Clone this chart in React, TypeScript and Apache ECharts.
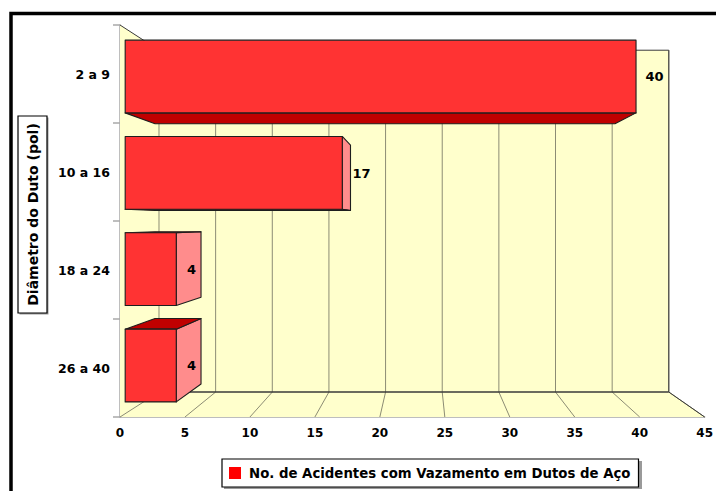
import React, { useEffect, useRef } from "react";
import * as echarts from "echarts";

// Pipe diameter classes (inches) and number of leak accidents in steel pipelines
const categories = ["2 a 9", "10 a 16", "18 a 24", "26 a 40"];
const accidents = [40, 17, 4, 4];
const seriesName = "No. de Acidentes com Vazamento em Dutos de Aço";
const axisTitle = "Diâmetro do Duto (pol)";
const xMin = 0;
const xMax = 45;
const xStep = 5;

// Perspective set-up: vanishing point as a fraction of the plot rect,
// and scale factors for the back wall and the bar front/back planes.
const VP_X = 0.521;
const VP_Y = 0.5026;
const WALL_S = 0.872;
const BAR_FRONT_S = 0.983;
const BAR_BACK_S = 0.885;
const BAR_FILL = 0.755;

const FONT = "DejaVu Sans";
const WALL_FILL = "#FFFFCC";
const GRID_COLOR = "#8c8c74";
const EDGE_COLOR = "#3a3a3a";
const AXIS_GRAY = "#a8a8a8";

function projector(cs: any) {
  const vx = cs.x + cs.width * VP_X;
  const vy = cs.y + cs.height * VP_Y;
  const P = (x: number, y: number, s: number) => [vx + (x - vx) * s, vy + (y - vy) * s];
  return { vx, vy, P };
}

function renderWalls(params: any, api: any) {
  const cs = params.coordSys;
  const { P } = projector(cs);
  const gx = cs.x;
  const gy = cs.y;
  const right = cs.x + cs.width;
  const bottom = cs.y + cs.height;
  const W = WALL_S;
  const children: any[] = [];
  const poly = (pts: number[][]) => ({
    type: "polygon",
    shape: { points: pts },
    style: { fill: WALL_FILL, stroke: "none" },
  });
  const line = (a: number[], b: number[], color: string, w = 1) => ({
    type: "line",
    shape: { x1: a[0], y1: a[1], x2: b[0], y2: b[1] },
    style: { stroke: color, lineWidth: w },
  });
  children.push(poly([[gx, gy], P(gx, gy, W), P(gx, bottom, W), [gx, bottom]]));
  children.push(poly([P(gx, gy, W), P(right, gy, W), P(right, bottom, W), P(gx, bottom, W)]));
  children.push(poly([[gx, bottom], [right, bottom], P(right, bottom, W), P(gx, bottom, W)]));
  for (let v = xMin; v <= xMax; v += xStep) {
    const x = api.coord([v, 0])[0];
    children.push(line(P(x, gy, W), P(x, bottom, W), GRID_COLOR));
    children.push(line(P(x, bottom, W), [x, bottom], GRID_COLOR));
  }
  children.push(line([gx, gy], P(gx, gy, W), EDGE_COLOR));
  children.push(line(P(gx, gy, W), P(right, gy, W), EDGE_COLOR));
  children.push(line(P(right, gy, W), P(right, bottom, W), EDGE_COLOR));
  children.push(line(P(gx, bottom, W), P(right, bottom, W), EDGE_COLOR, 1.5));
  children.push(line(P(right, bottom, W), [right, bottom], EDGE_COLOR));
  return { type: "group", children };
}

function renderBar(params: any, api: any) {
  const cs = params.coordSys;
  const { vx, vy, P } = projector(cs);
  const v = api.value(0);
  const c = api.value(1);
  const [x1, yc] = api.coord([v, c]);
  const x0 = api.coord([0, c])[0];
  const half = (api.size([0, 1])[1] * BAR_FILL) / 2;
  const top = yc - half;
  const bot = yc + half;
  const F = BAR_FRONT_S;
  const B = BAR_BACK_S;
  const fTL = P(x0, top, F), fTR = P(x1, top, F), fBR = P(x1, bot, F), fBL = P(x0, bot, F);
  const bTL = P(x0, top, B), bTR = P(x1, top, B), bBR = P(x1, bot, B), bBL = P(x0, bot, B);
  const face = (pts: number[][], fill: string) => ({
    type: "polygon",
    shape: { points: pts },
    style: { fill, stroke: "#1e1e1e", lineWidth: 1.1, lineJoin: "round" },
  });
  const children: any[] = [];
  if (x1 < vx) children.push(face([fTR, bTR, bBR, fBR], "#FF8C8C"));
  if (top > vy) children.push(face([fTL, fTR, bTR, bTL], "#C00000"));
  if (bot < vy) children.push(face([fBL, fBR, bBR, bBL], "#C00000"));
  children.push(face([fTL, fTR, fBR, fBL], "#FF3333"));
  const labelPos = P(x1, yc, 0.98);
  children.push({
    type: "text",
    x: labelPos[0] + 10,
    y: labelPos[1],
    style: {
      text: String(v),
      fill: "#000",
      font: `bold 13px "${FONT}"`,
      align: "left",
      verticalAlign: "middle",
    },
  });
  return { type: "group", children };
}

export default function App() {
  const ref = useRef<HTMLDivElement>(null);

  useEffect(() => {
    if (!ref.current) return;
    const chart = echarts.init(ref.current, undefined, { renderer: "svg" });
    chart.setOption({
      animation: false,
      backgroundColor: "#fff",
      grid: { left: 120, top: 25, width: 585, height: 392, containLabel: false },
      xAxis: {
        type: "value",
        min: xMin,
        max: xMax,
        interval: xStep,
        axisLine: { show: true, lineStyle: { color: AXIS_GRAY, width: 1.5 } },
        axisTick: { show: false },
        splitLine: { show: false },
        axisLabel: {
          margin: 10,
          color: "#000",
          fontFamily: FONT,
          fontWeight: "bold",
          fontSize: 12,
        },
      },
      yAxis: {
        type: "category",
        data: categories,
        inverse: true,
        axisLine: { show: true, lineStyle: { color: AXIS_GRAY, width: 1.5 } },
        axisTick: { show: true, length: 7, lineStyle: { color: AXIS_GRAY, width: 1.5 } },
        splitLine: { show: false },
        axisLabel: {
          margin: 10,
          color: "#000",
          fontFamily: FONT,
          fontWeight: "bold",
          fontSize: 12.5,
        },
      },
      legend: {
        left: 222,
        top: 459,
        padding: [6, 8, 6, 7],
        icon: "rect",
        itemWidth: 12,
        itemHeight: 12,
        borderColor: "#000",
        borderWidth: 1.2,
        backgroundColor: "#fff",
        selectedMode: false,
        textStyle: {
          color: "#000",
          fontFamily: FONT,
          fontWeight: "bold",
          fontSize: 13.3,
          lineHeight: 16,
          padding: [0, 0, 0, 3],
        },
        data: [{ name: seriesName, itemStyle: { color: "#FF0000" } }],
      },
      graphic: [
        {
          type: "rect",
          z: 1,
          shape: { x: 224, y: 461, width: 418, height: 28 },
          style: { fill: "#9a9a9a" },
        },
        {
          type: "rect",
          z: 1,
          shape: { x: 19.5, y: 117.5, width: 29, height: 197 },
          style: { fill: "#9a9a9a" },
        },
        {
          type: "rect",
          z: 2,
          shape: { x: 18, y: 116, width: 29, height: 197 },
          style: { fill: "#fff", stroke: "#000", lineWidth: 1.2 },
        },
        {
          type: "text",
          z: 3,
          x: 33,
          y: 214.5,
          rotation: Math.PI / 2,
          style: {
            text: axisTitle,
            fill: "#000",
            font: `bold 14px "${FONT}"`,
            align: "center",
            verticalAlign: "middle",
          },
        },
        {
          type: "rect",
          z: 10,
          shape: { x: 11, y: 13.5, width: 800, height: 600 },
          style: { fill: "none", stroke: "#000", lineWidth: 3.5 },
        },
      ],
      series: [
        {
          type: "custom",
          name: "walls",
          silent: true,
          z: 1,
          coordinateSystem: "cartesian2d",
          data: [[0, 0]],
          renderItem: renderWalls,
        },
        {
          type: "custom",
          name: seriesName,
          z: 3,
          coordinateSystem: "cartesian2d",
          itemStyle: { color: "#FF0000" },
          encode: { x: 0, y: 1 },
          data: accidents.map((v, i) => [v, i]),
          renderItem: renderBar,
        },
      ],
    });
    return () => chart.dispose();
  }, []);

  return (
    <div
      ref={ref}
      style={{ position: "fixed", left: 0, top: 0, width: 716, height: 491, background: "#fff" }}
    />
  );
}
